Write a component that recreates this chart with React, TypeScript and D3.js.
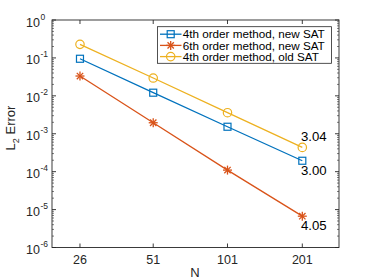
import React from "react";
import * as d3 from "d3";

const Ns = [26, 51, 101, 201];
const seriesNames = ["4th order method, new SAT", "6th order method, new SAT", "4th order method, old SAT"];
const err4New = [0.095, 0.0121, 1.53e-3, 1.94e-4];
const err6New = [0.0333, 1.95e-3, 1.1e-4, 6.7e-6];
const err4Old = [0.228, 0.0295, 3.59e-3, 4.37e-4];
const rates = ["3.04", "3.00", "4.05"];
const yTickExps = [0, -1, -2, -3, -4, -5, -6];

const colors = ["#0072BD", "#D95319", "#EDB120"];
const axisColor = "#262626";
const font = "Liberation Sans, Arial, Helvetica, sans-serif";

function Marker({ kind, x, y, color }: { kind: number; x: number; y: number; color: string }) {
  if (kind === 0) {
    return <rect x={x - 3.5} y={y - 3.5} width={7} height={7} fill="none" stroke={color} strokeWidth={1.2} />;
  }
  if (kind === 2) {
    return <circle cx={x} cy={y} r={4.2} fill="none" stroke={color} strokeWidth={1.2} />;
  }
  const r = 4.5;
  const lines = [0, 45, 90, 135].map((a) => {
    const rad = (a * Math.PI) / 180;
    return (
      <line key={a} x1={x - r * Math.cos(rad)} y1={y - r * Math.sin(rad)} x2={x + r * Math.cos(rad)} y2={y + r * Math.sin(rad)} stroke={color} strokeWidth={1.3} />
    );
  });
  return <g>{lines}</g>;
}

export default function App() {
  const W = 374, H = 280;
  const left = 52, right = 339, top = 20, bottom = 247.5;
  const x = d3.scaleLog().domain([20.1, 281.7]).range([left, right]);
  const y = d3.scaleLog().domain([1e-6, 1]).range([bottom, top]);
  const series = [err4New, err6New, err4Old];
  const line = d3.line<number>().x((_, i) => x(Ns[i])).y((d) => y(d));

  const minor: number[] = [];
  for (let e = -6; e < 0; e++) for (let m = 2; m <= 9; m++) minor.push(m * Math.pow(10, e));

  const annY = [err4Old[3], err4New[3], err6New[3]];
  const annOffsets = [-6, 14.5, 13.5];

  return (
    <svg width={W} height={H} style={{ position: "absolute", left: 0, top: 0, background: "#fff" }} fontFamily={font}>
      {series.map((s, k) => (
        <path key={k} d={line(s) || ""} fill="none" stroke={colors[k]} strokeWidth={1.3} />
      ))}
      {series.map((s, k) =>
        s.map((v, i) => <Marker key={k + "-" + i} kind={k} x={x(Ns[i])} y={y(v)} color={colors[k]} />)
      )}
      <rect x={left} y={top} width={right - left} height={bottom - top} fill="none" stroke={axisColor} strokeWidth={0.9} />
      {yTickExps.map((e) => {
        const ty = y(Math.pow(10, e));
        return (
          <g key={e}>
            <line x1={left} x2={left + 4} y1={ty} y2={ty} stroke={axisColor} strokeWidth={0.9} />
            <line x1={right} x2={right - 4} y1={ty} y2={ty} stroke={axisColor} strokeWidth={0.9} />
            <text x={40} y={ty + 6.5} fontSize={12.5} textAnchor="end" fill={axisColor}>10</text>
            <text x={40.5} y={ty - 0.5} fontSize={8.5} textAnchor="start" fill={axisColor}>{String(e)}</text>
          </g>
        );
      })}
      {minor.map((v, i) => (
        <g key={"m" + i}>
          <line x1={left} x2={left + 2} y1={y(v)} y2={y(v)} stroke={axisColor} strokeWidth={0.6} />
          <line x1={right} x2={right - 2} y1={y(v)} y2={y(v)} stroke={axisColor} strokeWidth={0.6} />
        </g>
      ))}
      {Ns.map((n) => (
        <g key={n}>
          <line x1={x(n)} x2={x(n)} y1={bottom} y2={bottom - 4} stroke={axisColor} strokeWidth={0.9} />
          <line x1={x(n)} x2={x(n)} y1={top} y2={top + 4} stroke={axisColor} strokeWidth={0.9} />
          <text x={x(n)} y={bottom + 16} fontSize={12.5} textAnchor="middle" fill={axisColor}>{n}</text>
        </g>
      ))}
      <text x={195} y={277} fontSize={13} textAnchor="middle" fill={axisColor}>N</text>
      <g transform={`translate(15, 128) rotate(-90)`}>
        <text x={0} y={0} fontSize={13} textAnchor="middle" fill={axisColor}>
          L<tspan fontSize={9} dy={4}>2</tspan><tspan dy={-4}> Error</tspan>
        </text>
      </g>
      {rates.map((r, i) => (
        <text key={r} x={301} y={y(annY[i]) + annOffsets[i]} fontSize={13.2} fill="#000">{r}</text>
      ))}
      <rect x={157.5} y={26.7} width={174} height={36.6} fill="#fff" stroke={axisColor} strokeWidth={0.8} />
      {seriesNames.map((nm, k) => {
        const ly = 34.2 + k * 11.2;
        return (
          <g key={nm}>
            <line x1={160} x2={181.5} y1={ly} y2={ly} stroke={colors[k]} strokeWidth={1.3} />
            <Marker kind={k} x={170.7} y={ly} color={colors[k]} />
            <text x={182.7} y={ly + 4.2} fontSize={11.7} fill="#000">{nm}</text>
          </g>
        );
      })}
    </svg>
  );
}
